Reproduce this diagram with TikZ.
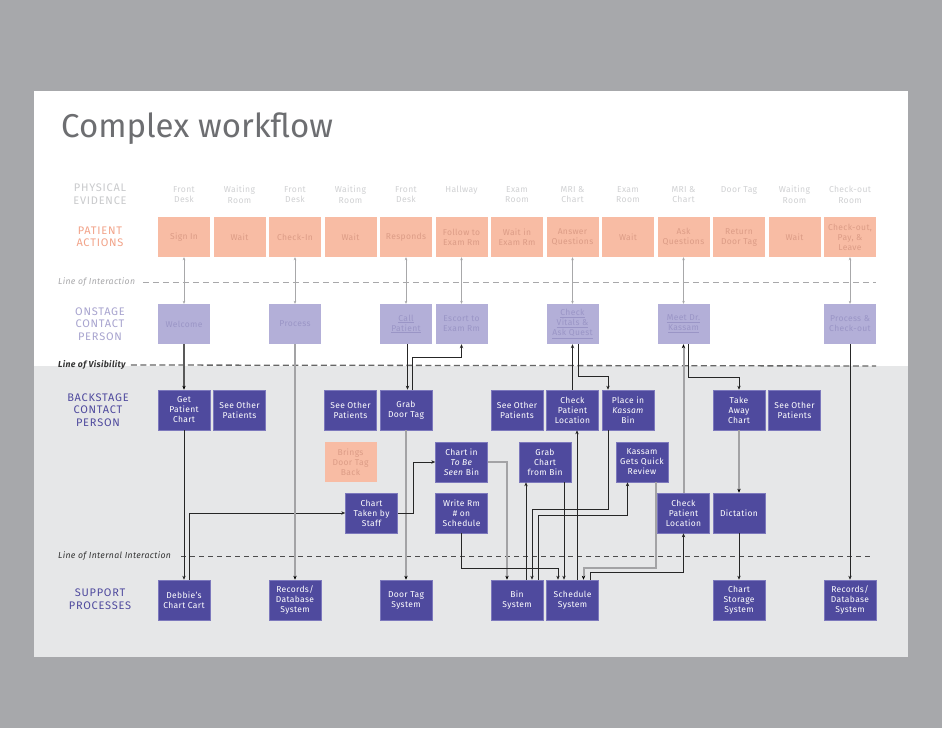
\documentclass[tikz,border=0pt]{standalone}
\usepackage{fontspec}
\setmainfont{Fira Sans}[LetterSpace=4]
\usetikzlibrary{arrows.meta,calc}
\definecolor{bgout}{HTML}{A7A8AB}
\definecolor{lowbg}{HTML}{E6E7E8}
\definecolor{pafill}{HTML}{F8BCA4}
\definecolor{patext}{HTML}{DC9C86}
\definecolor{osfill}{HTML}{B3AFD8}
\definecolor{ostext}{HTML}{9A95C6}
\definecolor{bsfill}{HTML}{4F4A9E}
\definecolor{bsborder}{HTML}{7C78BC}
\definecolor{pelabel}{HTML}{C9CACC}
\definecolor{petext}{HTML}{D0D1D3}
\definecolor{palabel}{HTML}{F2A389}
\definecolor{oslabel}{HTML}{A8A4CF}
\definecolor{titlec}{HTML}{6D6E71}
\definecolor{glin}{HTML}{A3A3A5}
\definecolor{ilin}{HTML}{A8A8AA}
\begin{document}
\begin{tikzpicture}[x=1pt,y=-1pt,
  box/.style={minimum width=52pt, minimum height=40pt, inner sep=1pt, align=center,
    font=\fontsize{8.5}{10}\selectfont},
  pa/.style={box, fill=pafill, text=patext},
  os/.style={box, fill=osfill, text=ostext},
  bs/.style={box, fill=bsfill, draw=bsborder, line width=0.6pt, text=white},
  petxt/.style={anchor=north, align=center, text=petext, inner sep=0pt,
    font=\fontsize{8.6}{10.5}\selectfont},
  rowlbl/.style={align=center, inner sep=0pt, font=\fontsize{11}{12.5}\selectfont\addfontfeature{LetterSpace=7}},
  linelbl/.style={anchor=west, inner sep=0pt, font=\fontsize{8.7}{10}\selectfont},
  inter/.style={draw=ilin, line width=0.5pt,
    {Stealth[length=3pt,width=2.6pt]}-{Stealth[length=3pt,width=2.6pt]}},
  blk/.style={draw=black!85, line width=0.8pt, -{Stealth[length=4pt,width=3.4pt]}},
  dgry/.style={draw=black!65, line width=1.4pt, -{Stealth[length=4pt,width=3.4pt,color=black]}},
  gry/.style={draw=glin, line width=2pt, -{Stealth[length=4pt,width=3.4pt,color=black]}}
]
% background
\fill[bgout] (0,0) rectangle (942,728);
\fill[white] (34,91) rectangle (908,366);
\fill[lowbg] (34,366) rectangle (908,657);

% title
\node[anchor=west, inner sep=0pt, text=titlec, font=\fontsize{33}{38}\selectfont\addfontfeature{LetterSpace=0}] (title) at (61,129) {Complex workflow};

% row labels
\node[rowlbl, text=pelabel] (rl1) at (100,194) {PHYSICAL\\EVIDENCE};
\node[rowlbl, text=palabel] (rl2) at (100,237) {PATIENT\\ACTIONS};
\node[rowlbl, text=oslabel] (rl3) at (100,324) {ONSTAGE\\CONTACT\\PERSON};
\node[rowlbl, text=bsfill] (rl4) at (98,410) {BACKSTAGE\\CONTACT\\PERSON};
\node[rowlbl, text=bsfill] (rl5) at (100,599) {SUPPORT\\PROCESSES};

% line labels and dashed lines
\node[linelbl, text=ilin] (loi) at (58,282) {\itshape Line of Interaction};
\draw[ilin, line width=0.6pt, dash pattern=on 6pt off 4pt] ([xshift=8pt]loi.east) -- (876,282);
\node[linelbl, text=black!80] (lov) at (58,365) {\bfseries\itshape Line of Visibility};
\draw[black!60, line width=1.3pt, dash pattern=on 6pt off 3.5pt] ([xshift=5pt]lov.east) -- (876,366);
\node[linelbl, text=black!80] (lii) at (58,556) {\itshape Line of Internal Interaction};
\draw[black!70, line width=0.8pt, dash pattern=on 5pt off 4pt] ([xshift=10pt]lii.east) -- (872,556);

% physical evidence
\node[petxt] (pe0) at (184,186) {Front\\Desk};
\node[petxt] (pe1) at (239.5,186) {Waiting\\Room};
\node[petxt] (pe2) at (295,186) {Front\\Desk};
\node[petxt] (pe3) at (350.5,186) {Waiting\\Room};
\node[petxt] (pe4) at (406,186) {Front\\Desk};
\node[petxt] (pe5) at (461.5,186) {Hallway};
\node[petxt] (pe6) at (517,186) {Exam\\Room};
\node[petxt] (pe7) at (572.5,186) {MRI \&\\Chart};
\node[petxt] (pe8) at (628,186) {Exam\\Room};
\node[petxt] (pe9) at (683.5,186) {MRI \&\\Chart};
\node[petxt] (pe10) at (739,186) {Door Tag};
\node[petxt] (pe11) at (794.5,186) {Waiting\\Room};
\node[petxt] (pe12) at (850,186) {Check-out\\Room};

% patient actions
\node[pa] (pa0) at (184,237) {Sign In};
\node[pa] (pa1) at (239.5,237) {Wait};
\node[pa] (pa2) at (295,237) {Check-In};
\node[pa] (pa3) at (350.5,237) {Wait};
\node[pa] (pa4) at (406,237) {Responds};
\node[pa] (pa5) at (461.5,237) {Follow to\\Exam Rm};
\node[pa] (pa6) at (517,237) {Wait in\\Exam Rm};
\node[pa] (pa7) at (572.5,237) {Answer\\Questions};
\node[pa] (pa8) at (628,237) {Wait};
\node[pa] (pa9) at (683.5,237) {Ask\\Questions};
\node[pa] (pa10) at (739,237) {Return\\Door Tag};
\node[pa] (pa11) at (794.5,237) {Wait};
\node[pa] (pa12) at (850,237) {Check-out,\\Pay, \&\\Leave};

% onstage
\node[os] (welcome) at (184,324) {Welcome};
\node[os] (process) at (295,324) {Process};
\node[os] (call) at (406,324) {\underline{Call}\\\underline{Patient}};
\node[os] (escort) at (461.5,324) {Escort to\\Exam Rm};
\node[os] (vitals) at (572.5,324) {\underline{Check}\\\underline{Vitals \&}\\\underline{Ask Quest}};
\node[os] (meet) at (683.5,324) {\underline{Meet Dr.}\\\underline{Kassam}};
\node[os] (pco) at (850,324) {Process \&\\Check-out};

% backstage row 1
\node[bs] (gpc) at (184,410) {Get\\Patient\\Chart};
\node[bs] (see1) at (239.5,410) {See Other\\Patients};
\node[bs] (see2) at (350.5,410) {See Other\\Patients};
\node[bs] (gdt) at (406,410) {Grab\\Door Tag};
\node[bs] (see3) at (517,410) {See Other\\Patients};
\node[bs] (cpl) at (572.5,410) {Check\\Patient\\Location};
\node[bs] (place) at (628,410) {Place in\\\textit{Kassam}\\Bin};
\node[bs] (take) at (739,410) {Take\\Away\\Chart};
\node[bs] (see4) at (794.5,410) {See Other\\Patients};

% backstage row 2
\node[pa] (brings) at (350.5,462) {Brings\\Door Tag\\Back};
\node[bs] (tbs) at (461.5,462) {Chart in\\\textit{To Be}\\\textit{Seen} Bin};
\node[bs] (grab) at (545,462) {Grab\\Chart\\from Bin};
\node[bs] (kassam) at (642,462) {Kassam\\Gets Quick\\Review};

% backstage row 3
\node[bs] (cts) at (371.5,513) {Chart\\Taken by\\Staff};
\node[bs] (write) at (461.5,513) {Write Rm\\\# on\\Schedule};
\node[bs] (cpl9) at (683.5,513) {Check\\Patient\\Location};
\node[bs] (dict) at (739,513) {Dictation};

% support
\node[bs] (debbie) at (184,600) {Debbie's\\Chart Cart};
\node[bs] (rec1) at (295,600) {Records/\\Database\\System};
\node[bs] (dts) at (406,600) {Door Tag\\System};
\node[bs] (bin) at (517,600) {Bin\\System};
\node[bs] (sched) at (572.5,600) {Schedule\\System};
\node[bs] (css) at (739,600) {Chart\\Storage\\System};
\node[bs] (rec2) at (850,600) {Records/\\Database\\System};

% lines of interaction
\draw[inter] (pa0.south) -- (welcome.north);
\draw[inter] (pa2.south) -- (process.north);
\draw[inter] (pa4.south) -- (call.north);
\draw[inter] (pa5.south) -- (escort.north);
\draw[inter] (pa7.south) -- (vitals.north);
\draw[inter] (pa9.south) -- (meet.north);
\draw[inter] (pa12.south) -- (pco.north);

% connectors
\draw[dgry] (welcome.south) -- (gpc.north);
\draw[blk] (gpc.south) -- (debbie.north);
\draw[blk] ([xshift=5pt]debbie.north) |- (cts.west);
\draw[gry] (process.south) -- (rec1.north);
\draw[blk] ([xshift=1.5pt]call.south) -- ([xshift=1.5pt]gdt.north);
\draw[blk] ([xshift=6pt]gdt.north) -- ++(0,-32) -| (escort.south);
\draw[gry] (gdt.south) -- (dts.north);
\draw[blk] (cts.east) -- ++(16,0) |- (tbs.west);
\draw[gry] (tbs.east) -| ([xshift=-10pt]bin.north);
\draw[blk] (write.south) -- ++(0,35) -| ([xshift=-14.5pt]sched.north);
\draw[blk] ([xshift=9pt]bin.north) -- ([xshift=-19pt]grab.south);
\draw[blk] ([xshift=5.5pt]vitals.south) -- ++(0,32) -| ([xshift=-20pt]place.north);
\draw[blk] ([xshift=-20pt]place.south) -- ++(0,79) -| ([xshift=15pt]bin.north);
\draw[blk] ([xshift=21pt]bin.north) -- ++(0,-64) -| ([xshift=-14.5pt]kassam.south);
\draw[blk] ([xshift=19pt]grab.south) -- ([xshift=-8.5pt]sched.north);
\draw[blk] ([xshift=4.5pt]sched.north) -- ([xshift=4.5pt]cpl.south);
\draw[blk] (cpl.north) -- (vitals.south);
\draw[gry] ([xshift=14pt]kassam.south) -- ++(0,86) -| ([xshift=11pt]sched.north);
\draw[blk] ([xshift=17.5pt]sched.north) -- ++(0,-7) -| (cpl9.south);
\draw[gry] (cpl9.north) -- (meet.south);
\draw[blk] ([xshift=4.5pt]meet.south) -- ++(0,33) -| (take.north);
\draw[gry] (take.south) -- (dict.north);
\draw[blk] (dict.south) -- (css.north);
\draw[blk] (pco.south) -- (rec2.north);
\end{tikzpicture}
\end{document}
